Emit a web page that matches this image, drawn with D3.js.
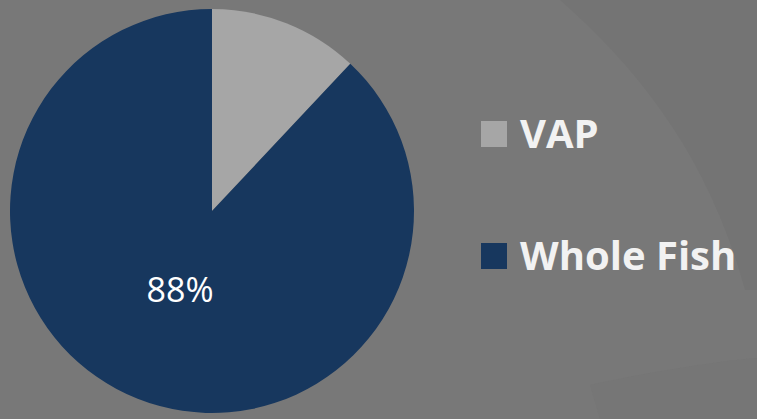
<!DOCTYPE html>
<html>
<head>
<meta charset="utf-8">
<script src="https://cdn.jsdelivr.net/npm/d3@7"></script>
<style>
  body { margin: 0; background: #787878; }
  svg { display: block; }
</style>
</head>
<body>
<div id="main_svg"></div>
<script>
// data
var categories = ["VAP", "Whole Fish"];
var shares = [12, 88];
var labels = ["", "88%"];
var colors = ["#a6a6a6", "#17375e"];

var width = 757, height = 419;
var cx = 212, cy = 211, radius = 202;

var svg = d3.select("#main_svg").append("svg")
    .attr("width", width)
    .attr("height", height);

// background
svg.append("rect")
    .attr("width", width)
    .attr("height", height)
    .attr("fill", "#787878");

// faint swooshes in the slide background
svg.append("path")
    .attr("d", "M560,0 C640,70 710,160 745,290 L757,290 L757,0 Z")
    .attr("fill", "#727272")
    .attr("opacity", 0.6);
svg.append("path")
    .attr("d", "M590,385 C650,372 710,362 757,358 L757,419 L600,419 Z")
    .attr("fill", "#737373")
    .attr("opacity", 0.5);

var data = categories.map(function (c, i) {
    return {name: c, value: shares[i], label: labels[i], color: colors[i]};
});

var pie = d3.pie()
    .sort(null)
    .value(function (d) { return d.value; });

var arc = d3.arc()
    .innerRadius(0)
    .outerRadius(radius);

var labelArc = d3.arc()
    .innerRadius(radius * 0.43)
    .outerRadius(radius * 0.43);

var g = svg.append("g")
    .attr("transform", "translate(" + cx + "," + cy + ")");

g.selectAll(".slice")
    .data(pie(data))
    .enter().append("path")
    .attr("class", "slice")
    .attr("d", arc)
    .attr("fill", function (d) { return d.data.color; });

g.selectAll(".lbl")
    .data(pie(data))
    .enter().append("text")
    .attr("class", "lbl")
    .attr("transform", function (d) { return "translate(" + labelArc.centroid(d) + ")"; })
    .attr("text-anchor", "middle")
    .attr("dy", "0.3em")
    .attr("fill", "#ffffff")
    .style("font-family", "'Open Sans', sans-serif")
    .style("font-size", "34px")
    .text(function (d) { return d.data.label; });

// legend
var legend = svg.selectAll(".legend")
    .data(data)
    .enter().append("g")
    .attr("class", "legend")
    .attr("transform", function (d, i) { return "translate(481," + (121 + i * 122) + ")"; });

legend.append("rect")
    .attr("width", 26)
    .attr("height", 26)
    .attr("fill", function (d) { return d.color; });

legend.append("text")
    .attr("x", 39)
    .attr("y", 27)
    .attr("fill", "#f2f2f2")
    .style("font-family", "'Open Sans', sans-serif")
    .style("font-weight", "bold")
    .style("font-size", "40px")
    .text(function (d) { return d.name; });
</script>
</body>
</html>
